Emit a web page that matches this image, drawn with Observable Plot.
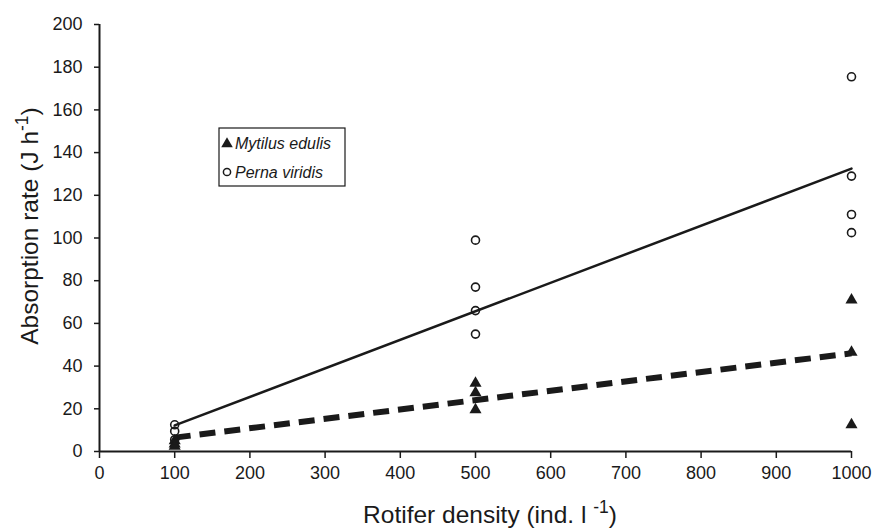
<!DOCTYPE html>
<html>
<head>
<meta charset="utf-8">
<script src="https://cdn.jsdelivr.net/npm/d3@7"></script>
<script src="https://cdn.jsdelivr.net/npm/@observablehq/plot@0.6"></script>
<style>
  html, body { margin: 0; padding: 0; background: #fff; }
  #chart svg { display: block; }
  #chart svg g[aria-label="x-axis tick label"],
  #chart svg g[aria-label="y-axis tick label"] { font-size: 18px; }
</style>
</head>
<body>
<div id="chart"></div>
<script>
const xTicks = [0, 100, 200, 300, 400, 500, 600, 700, 800, 900, 1000];
const yTicks = [0, 20, 40, 60, 80, 100, 120, 140, 160, 180, 200];

const pernaX = [100, 100, 100, 500, 500, 500, 500, 1000, 1000, 1000, 1000];
const pernaY = [12.5, 9.5, 5.5, 99, 77, 66, 55, 175.5, 129, 111, 102.5];

const mytilusX = [100, 100, 100, 500, 500, 500, 1000, 1000, 1000];
const mytilusY = [5, 3.5, 2.5, 32, 27.5, 19.5, 71, 46.5, 12.5];

const fitX = [100, 1000];
const pernaFit = [12.2, 132.5];
const mytilusFit = [6.5, 46];

const seriesNames = ["Mytilus edulis", "Perna viridis"];
const xLabel = ["Rotifer density (ind. l ", "-1", ")"];
const yLabel = ["Absorption rate (J h", "-1", ")"];

const perna = pernaX.map((x, i) => ({x, y: pernaY[i]}));
const mytilus = mytilusX.map((x, i) => ({x, y: mytilusY[i]}));
const pFit = fitX.map((x, i) => ({x, y: pernaFit[i]}));
const mFit = fitX.map((x, i) => ({x, y: mytilusFit[i]}));

const ink = "#1a1a1a";

const chart = Plot.plot({
  width: 872,
  height: 531,
  marginLeft: 99,
  marginRight: 21,
  marginTop: 24,
  marginBottom: 80,
  style: {fontFamily: "'Liberation Sans', Arial, sans-serif", fontSize: "18px", color: ink, background: "#fff"},
  x: {domain: [0, 1000], label: null},
  y: {domain: [0, 200], label: null},
  marks: [
    Plot.axisX({ticks: xTicks, tickFormat: d => String(d), tickSize: 7, tickPadding: 8, label: null, strokeWidth: 1.5, fontSize: 18}),
    Plot.axisY({ticks: yTicks, tickFormat: d => String(d), tickSize: 5, tickPadding: 12, label: null, strokeWidth: 1.5, fontSize: 18}),
    Plot.ruleX([0], {stroke: ink, strokeWidth: 2}),
    Plot.ruleY([0], {stroke: ink, strokeWidth: 2}),
    Plot.line(mFit, {x: "x", y: "y", stroke: ink, strokeWidth: 6, strokeDasharray: "16,9", strokeLinecap: "butt"}),
    Plot.line(pFit, {x: "x", y: "y", stroke: ink, strokeWidth: 2.5}),
    Plot.dot(mytilus, {x: "x", y: "y", symbol: "triangle", r: 4.5, fill: ink, stroke: "none"}),
    Plot.dot(perna, {x: "x", y: "y", symbol: "circle", r: 4, fill: "none", stroke: ink, strokeWidth: 1.6})
  ]
});

document.getElementById("chart").appendChild(chart);

const svg = d3.select(chart);
svg.selectAll('g[aria-label="x-axis tick label"], g[aria-label="y-axis tick label"]')
  .attr("font-size", 18);

// Axis titles with superscripts
const xt = svg.append("text")
  .attr("x", 490).attr("y", 523)
  .attr("text-anchor", "middle")
  .attr("font-size", 24.5)
  .attr("fill", ink);
xt.append("tspan").text(xLabel[0]);
xt.append("tspan").attr("baseline-shift", "super").attr("font-size", 17.5).text(xLabel[1]);
xt.append("tspan").text(xLabel[2]);

const yt = svg.append("text")
  .attr("transform", "translate(38,226) rotate(-90)")
  .attr("text-anchor", "middle")
  .attr("font-size", 24.5)
  .attr("fill", ink);
yt.append("tspan").text(yLabel[0]);
yt.append("tspan").attr("baseline-shift", "super").attr("font-size", 17.5).text(yLabel[1]);
yt.append("tspan").text(yLabel[2]);

// Legend box
const lg = svg.append("g").attr("transform", "translate(219,128)").attr("text-anchor", "start");
lg.append("rect").attr("width", 126).attr("height", 58)
  .attr("fill", "#fff").attr("stroke", ink).attr("stroke-width", 1.2);
lg.append("path")
  .attr("transform", "translate(8,16)")
  .attr("d", d3.symbol(d3.symbolTriangle, Math.PI * 4.3 * 4.3)())
  .attr("fill", ink);
lg.append("text").attr("x", 16).attr("y", 21)
  .attr("text-anchor", "start")
  .attr("font-size", 16).attr("font-style", "italic").attr("fill", ink)
  .text(seriesNames[0]);
lg.append("circle").attr("cx", 8).attr("cy", 44).attr("r", 3.6)
  .attr("fill", "none").attr("stroke", ink).attr("stroke-width", 1.5);
lg.append("text").attr("x", 16).attr("y", 50)
  .attr("text-anchor", "start")
  .attr("font-size", 16).attr("font-style", "italic").attr("fill", ink)
  .text(seriesNames[1]);
</script>
</body>
</html>
